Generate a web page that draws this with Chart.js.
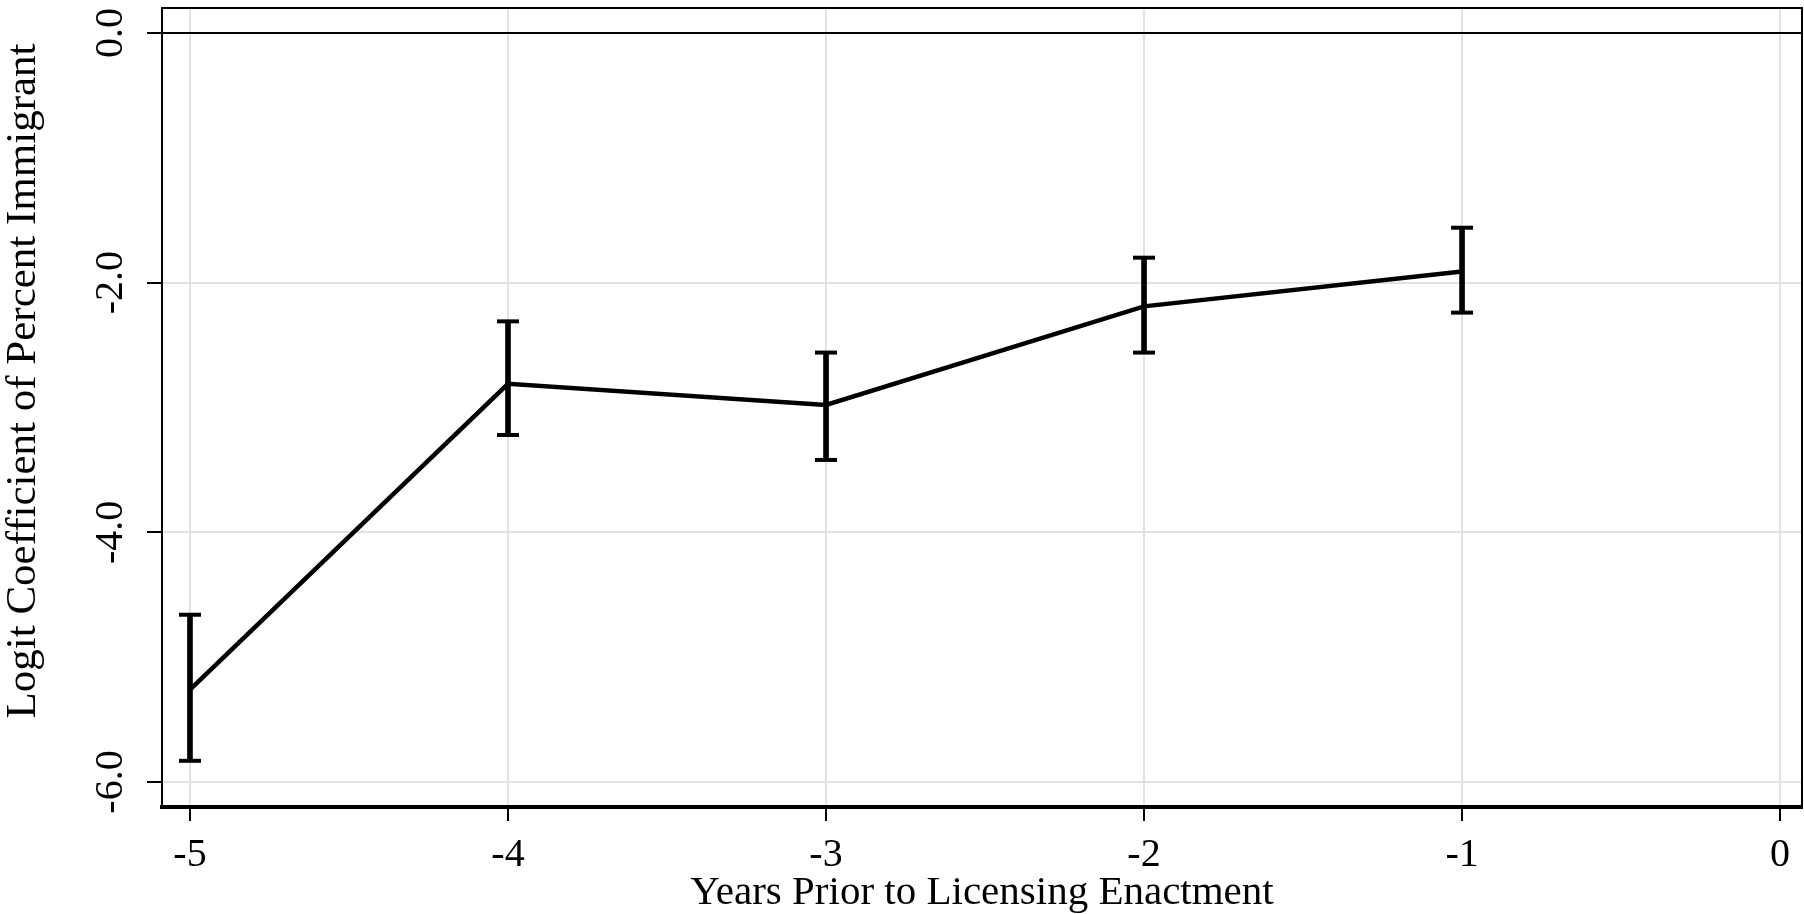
<!DOCTYPE html>
<html>
<head>
<meta charset="utf-8">
<script src="https://cdn.jsdelivr.net/npm/chart.js@4.4.1/dist/chart.umd.min.js"></script>
<style>
  body { margin: 0; background: #fff; }
  canvas { display: block; }
</style>
</head>
<body>
<canvas id="coefChart" width="1804" height="914"></canvas>
<script>
// years before the licensing law was passed
var years = [-5, -4, -3, -2, -1];
// logit coefficients, and the bottom / top of each error bar
var coefs = [-5.26, -2.81, -2.98, -2.19, -1.91];
var lowerCI = [-5.83, -3.22, -3.42, -2.56, -2.24];
var upperCI = [-4.66, -2.31, -2.56, -1.80, -1.56];
// tick values for the two axes
var xTicks = [-5, -4, -3, -2, -1, 0];
var yTicks = [-6, -4, -2, 0];
var yTitle = 'Logit Coefficient of Percent Immigrant';

Chart.defaults.font.family = 'Liberation Serif';
Chart.defaults.color = '#000';

var linePoints = years.map(function (yr, i) { return { x: yr, y: coefs[i] }; });
var barRanges = years.map(function (yr, i) { return { x: yr, y: [lowerCI[i], upperCI[i]] }; });
var capPoints = [];
years.forEach(function (yr, i) {
    capPoints.push({ x: yr, y: lowerCI[i] });
    capPoints.push({ x: yr, y: upperCI[i] });
});

// top and right edge of the plot box (the axes give left and bottom),
// plus the y title which sits a bit above the middle in the original
var framePlugin = {
    id: 'frame',
    afterDraw: function (chart) {
        var a = chart.chartArea, c = chart.ctx;
        c.save();
        c.strokeStyle = '#000';
        c.lineWidth = 2;
        c.beginPath();
        c.moveTo(a.left, a.top);
        c.lineTo(a.right, a.top);
        c.lineTo(a.right, a.bottom);
        c.stroke();

        c.translate(24, 381);
        c.rotate(-Math.PI / 2);
        c.font = '43px "Liberation Serif"';
        c.fillStyle = '#000';
        c.textAlign = 'center';
        c.textBaseline = 'middle';
        c.fillText(yTitle, 0, 0);
        c.restore();
    }
};

var ctx = document.getElementById('coefChart').getContext('2d');
var coefChart = new Chart(ctx, {
    type: 'line',
    data: {
        datasets: [{
            type: 'line',
            data: linePoints,
            borderColor: '#000',
            borderWidth: 4.5,
            pointRadius: 0,
            tension: 0,
            fill: false
        }, {
            //vertical part of the error bars
            type: 'bar',
            data: barRanges,
            backgroundColor: '#000',
            borderWidth: 0,
            barThickness: 5
        }, {
            //caps of the error bars
            type: 'scatter',
            data: capPoints,
            showLine: false,
            pointStyle: 'line',
            pointRadius: 11,
            pointBorderWidth: 4,
            pointBorderColor: '#000'
        }]
    },
    options: {
        responsive: false,
        animation: false,
        events: [],
        layout: { autoPadding: false, padding: { top: 8, right: 2, left: 0, bottom: 0 } },
        plugins: {
            legend: { display: false },
            tooltip: { enabled: false }
        },
        scales: {
            x: {
                type: 'linear',
                min: -5.088,
                max: 0.069,
                offset: false,
                afterBuildTicks: function (s) { s.ticks = xTicks.map(function (v) { return { value: v }; }); },
                afterFit: function (s) { s.height = 107; s.paddingLeft = 0; s.paddingRight = 0; },
                grid: { offset: false, color: '#e2e2e2', lineWidth: 2, tickColor: '#000', tickWidth: 2, tickLength: 14 },
                border: { color: '#000', width: 4 },
                ticks: {
                    font: { size: 40 },
                    padding: 10,
                    maxRotation: 0,
                    autoSkip: false,
                    callback: function (v) { return String(v); }
                },
                title: {
                    display: true,
                    text: 'Years Prior to Licensing Enactment',
                    font: { size: 41, lineHeight: 1 },
                    padding: { top: 0, bottom: 0 }
                }
            },
            y: {
                min: -6.2,
                max: 0.2,
                afterBuildTicks: function (s) { s.ticks = yTicks.map(function (v) { return { value: v }; }); },
                afterFit: function (s) { s.width = 162; s.paddingTop = 0; s.paddingBottom = 0; },
                grid: {
                    color: function (c) { return c.tick && c.tick.value === 0 ? '#000' : '#e2e2e2'; },
                    lineWidth: 2,
                    tickColor: '#000',
                    tickWidth: 2,
                    tickLength: 15
                },
                border: { color: '#000', width: 2 },
                ticks: {
                    font: { size: 40 },
                    padding: 4,
                    minRotation: 90,
                    maxRotation: 90,
                    crossAlign: 'center',
                    autoSkip: false,
                    callback: function (v) { return v.toFixed(1); }
                }
            }
        }
    },
    plugins: [framePlugin]
});
</script>
</body>
</html>
